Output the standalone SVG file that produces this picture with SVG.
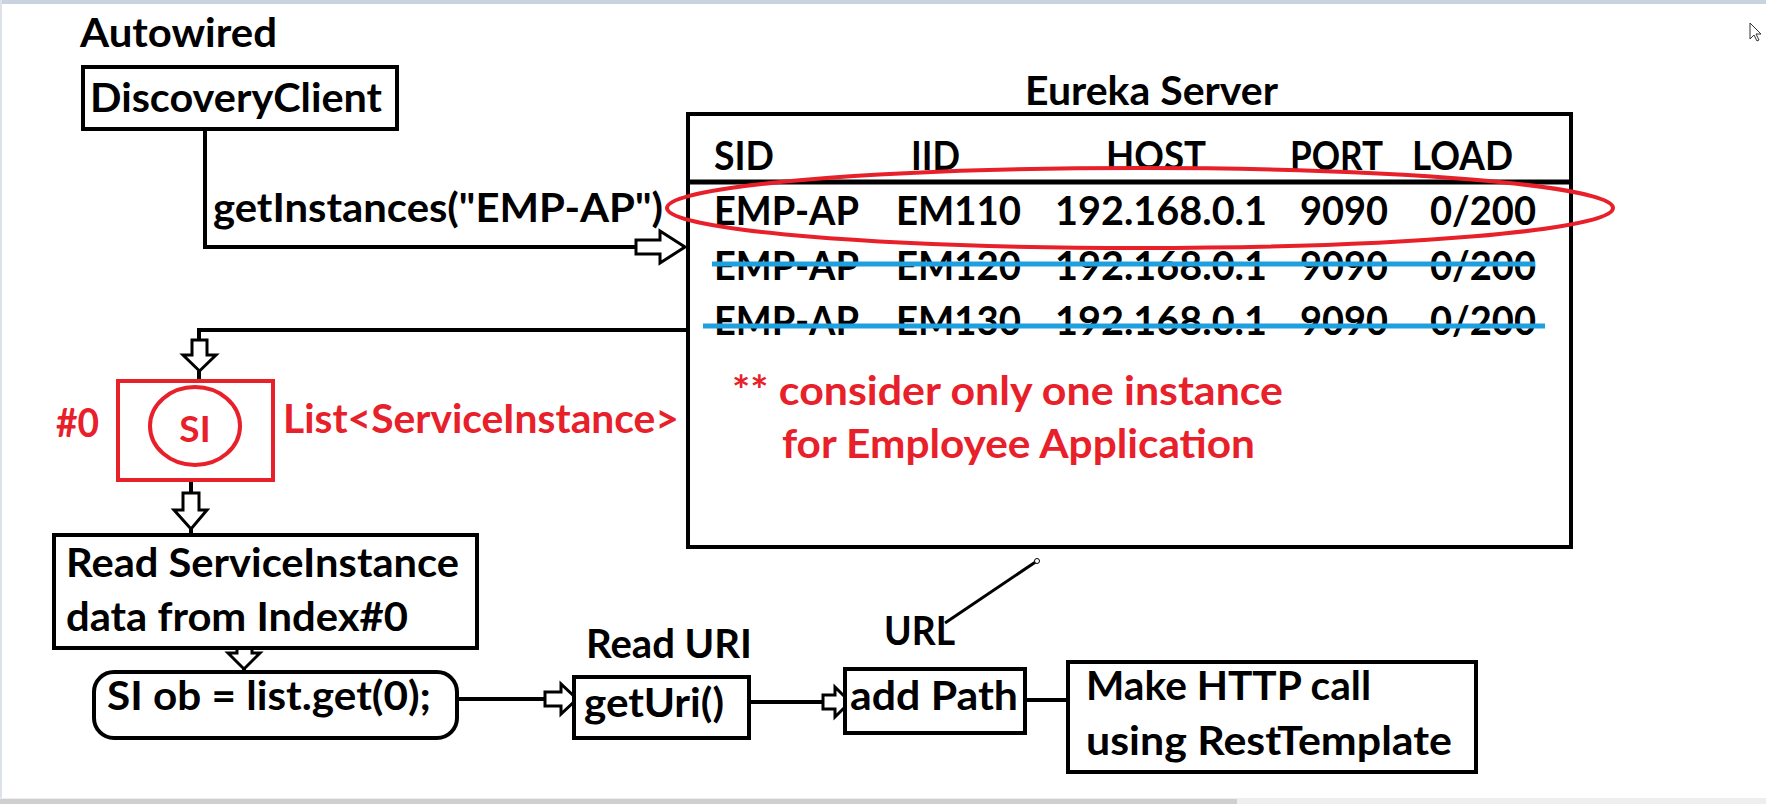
<svg xmlns="http://www.w3.org/2000/svg" width="1766" height="804" viewBox="0 0 1766 804">
<style>
text{font-family:Lato,"Open Sans","Liberation Sans",sans-serif;font-weight:700;font-size:40px}
.k{fill:#000}
.r{fill:#e8202a}
.box{fill:#fff;stroke:#000;stroke-width:4}
.rbox{fill:#fff;stroke:#e8202a;stroke-width:4}
.ln{fill:none;stroke:#000;stroke-width:4}
.arr{fill:#fff;stroke:#000;stroke-width:3;stroke-linejoin:miter}
.strike{stroke:#1e9fe0;stroke-width:5}
</style>
<rect x="0" y="0" width="1766" height="804" fill="#fff"/>
<rect x="0" y="0" width="1766" height="4" fill="#c9d3e0"/>
<rect x="0" y="0" width="2" height="804" fill="#dde2ea"/>
<rect x="0" y="798" width="1766" height="6" fill="#eeeeee"/>
<rect x="0" y="799" width="1237" height="5" fill="#cfcfcf"/>

<g id="connectors">
  <path class="ln" d="M205,129 V247 H636"/>
  <polygon class="arr" points="636,240 660,240 660,231 685,247 660,263 660,254 636,254"/>
  <path class="ln" d="M688,330 H199 V340"/>
  <polygon class="arr" points="192,340 207,340 207,355 216,355 199.5,371 183,355 192,355"/>
  <path class="ln" d="M199,371 V381"/>
  <path class="ln" d="M191,480 V493"/>
  <polygon class="arr" points="183,493 199,493 199,510 207,510 191,529 174,510 183,510"/>
  <path class="ln" d="M191,529 V535"/>
  <polygon class="arr" points="237,638 252,638 252,653 260,653 244,669 228,653 237,653"/>
  <path class="ln" d="M244,669 V672"/>
  <path class="ln" d="M457,699 H545"/>
  <polygon class="arr" points="545,692 561,692 561,684 577,699 561,714 561,706 545,706"/>
  <path class="ln" d="M749,702 H823"/>
  <polygon class="arr" points="823,695 835,695 835,687 850,702 835,717 835,709 823,709"/>
  <path class="ln" d="M1025,700 H1068"/>
</g>

<g id="autowired">
  <text class="k" x="80" y="47" textLength="197" lengthAdjust="spacingAndGlyphs">Autowired</text>
</g>

<g id="discovery-client">
  <rect class="box" x="83" y="67" width="314" height="62"/>
  <text class="k" x="90" y="112" textLength="292" lengthAdjust="spacingAndGlyphs">DiscoveryClient</text>
</g>

<g id="get-instances-label">
  <text class="k" x="213" y="222" textLength="450" lengthAdjust="spacingAndGlyphs">getInstances("EMP-AP")</text>
</g>

<g id="eureka-server">
  <text class="k" x="1025" y="105" textLength="253" lengthAdjust="spacingAndGlyphs">Eureka Server</text>
  <rect class="box" x="688" y="114" width="883" height="433"/>
  <line x1="688" y1="182" x2="1571" y2="182" stroke="#000" stroke-width="5"/>
  <text class="k" x="714" y="170" textLength="60" lengthAdjust="spacingAndGlyphs">SID</text>
  <text class="k" x="911" y="170" textLength="49" lengthAdjust="spacingAndGlyphs">IID</text>
  <text class="k" x="1106" y="170" textLength="100" lengthAdjust="spacingAndGlyphs">HOST</text>
  <text class="k" x="1290" y="170" textLength="93" lengthAdjust="spacingAndGlyphs">PORT</text>
  <text class="k" x="1412" y="170" textLength="101" lengthAdjust="spacingAndGlyphs">LOAD</text>

  <text class="k" x="714" y="225" textLength="145" lengthAdjust="spacingAndGlyphs">EMP-AP</text>
  <text class="k" x="896" y="225" textLength="125" lengthAdjust="spacingAndGlyphs">EM110</text>
  <text class="k" x="1055" y="225" textLength="212" lengthAdjust="spacingAndGlyphs">192.168.0.1</text>
  <text class="k" x="1300" y="225" textLength="88" lengthAdjust="spacingAndGlyphs">9090</text>
  <text class="k" x="1430" y="225" textLength="106" lengthAdjust="spacingAndGlyphs">0/200</text>

  <text class="k" x="714" y="280" textLength="145" lengthAdjust="spacingAndGlyphs">EMP-AP</text>
  <text class="k" x="896" y="280" textLength="125" lengthAdjust="spacingAndGlyphs">EM120</text>
  <text class="k" x="1055" y="280" textLength="212" lengthAdjust="spacingAndGlyphs">192.168.0.1</text>
  <text class="k" x="1300" y="280" textLength="88" lengthAdjust="spacingAndGlyphs">9090</text>
  <text class="k" x="1430" y="280" textLength="106" lengthAdjust="spacingAndGlyphs">0/200</text>

  <text class="k" x="714" y="335" textLength="145" lengthAdjust="spacingAndGlyphs">EMP-AP</text>
  <text class="k" x="896" y="335" textLength="125" lengthAdjust="spacingAndGlyphs">EM130</text>
  <text class="k" x="1055" y="335" textLength="212" lengthAdjust="spacingAndGlyphs">192.168.0.1</text>
  <text class="k" x="1300" y="335" textLength="88" lengthAdjust="spacingAndGlyphs">9090</text>
  <text class="k" x="1430" y="335" textLength="106" lengthAdjust="spacingAndGlyphs">0/200</text>

  <line class="strike" x1="712" y1="264" x2="1535" y2="264"/>
  <line class="strike" x1="703" y1="326" x2="1545" y2="326"/>
  <ellipse cx="1140" cy="208" rx="473" ry="40" fill="none" stroke="#e8202a" stroke-width="4"/>

  <text class="r" x="732" y="405" textLength="551" lengthAdjust="spacingAndGlyphs">** consider only one instance</text>
  <text class="r" x="782" y="458" textLength="473" lengthAdjust="spacingAndGlyphs">for Employee Application</text>
</g>

<g id="service-instance-list">
  <text class="r" x="56" y="437" textLength="43" lengthAdjust="spacingAndGlyphs">#0</text>
  <rect class="rbox" x="118" y="381" width="155" height="99"/>
  <ellipse cx="195" cy="426" rx="45" ry="39" fill="none" stroke="#e8202a" stroke-width="4"/>
  <text class="r" x="195" y="442" text-anchor="middle" style="font-size:37px">SI</text>
  <text class="r" x="283" y="433" textLength="396" lengthAdjust="spacingAndGlyphs">List&lt;ServiceInstance&gt;</text>
</g>

<g id="read-service-instance">
  <rect class="box" x="54" y="535" width="423" height="113"/>
  <text class="k" x="66" y="577" textLength="393" lengthAdjust="spacingAndGlyphs">Read ServiceInstance</text>
  <text class="k" x="66" y="631" textLength="342" lengthAdjust="spacingAndGlyphs">data from Index#0</text>
</g>

<g id="si-ob">
  <rect class="box" x="94" y="672" width="363" height="66" rx="20" ry="20"/>
  <text class="k" x="107" y="710" textLength="324" lengthAdjust="spacingAndGlyphs">SI ob = list.get(0);</text>
</g>

<g id="get-uri">
  <text class="k" x="586" y="658" textLength="166" lengthAdjust="spacingAndGlyphs">Read URI</text>
  <rect class="box" x="574" y="677" width="175" height="61"/>
  <text class="k" x="584" y="717" textLength="140" lengthAdjust="spacingAndGlyphs">getUri()</text>
</g>

<g id="add-path">
  <text class="k" x="884" y="645" textLength="71" lengthAdjust="spacingAndGlyphs">URL</text>
  <rect class="box" x="845" y="669" width="180" height="64"/>
  <text class="k" x="850" y="710" textLength="168" lengthAdjust="spacingAndGlyphs">add Path</text>
</g>

<g id="make-http-call">
  <rect class="box" x="1068" y="662" width="408" height="110"/>
  <text class="k" x="1086" y="700" textLength="285" lengthAdjust="spacingAndGlyphs">Make HTTP call</text>
  <text class="k" x="1086" y="755" textLength="366" lengthAdjust="spacingAndGlyphs">using RestTemplate</text>
</g>

<g id="pen-stroke">
  <line x1="945" y1="623" x2="1037" y2="561" stroke="#000" stroke-width="3"/>
  <circle cx="1037" cy="561" r="2.5" fill="#fff" stroke="#000" stroke-width="1"/>
</g>

<g id="cursor">
  <polygon points="1750,23 1750,39 1754,35 1757,41 1759,40 1756,34 1761,34" fill="#fff" stroke="#333" stroke-width="1"/>
</g>
</svg>
